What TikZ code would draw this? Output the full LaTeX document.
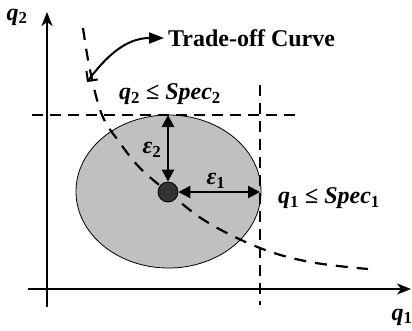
\documentclass[tikz,border=0pt]{standalone}
\usepackage{fontspec}
\setmainfont{Liberation Serif}
\usetikzlibrary{arrows.meta, positioning, shapes.geometric}

\begin{document}
\begin{tikzpicture}[
			x=1pt, y=-1pt,
			axis/.style={
				line width=2.6pt,
				-{Stealth[length=14pt, width=11pt, inset=4pt]}
			},
			specline/.style={
				line width=2.6pt,
				dash pattern=on 11pt off 7pt
			},
			tradeoff/.style={
				line width=2.2pt,
				dash pattern=on 12pt off 9pt
			},
			arrow/.style={
				{Triangle[length=12pt, width=12pt]}-{Triangle[length=12pt, width=12pt]},
				line width=2.6pt
			},
			pointer/.style={
				{Straight Barb[length=7pt, width=14pt]}-{Triangle[length=15pt, width=11pt]},
				line width=2pt,
				shorten >=4pt
			},
			label/.style={
				font=\fontsize{24}{27}\selectfont\bfseries,
				inner sep=0pt
			}
			]
			
			% Fix the page size
			\useasboundingbox (0,0) rectangle (412,330);
			
			% Tolerance region (ellipse) and nominal point
			\node[ellipse, draw, fill={rgb,255:red,192;green,192;blue,192}, line width=0.8pt,
				minimum width=185pt, minimum height=153pt, inner sep=0pt] (region) at (168.5,191.5) {};
			
			% Axes
			\coordinate (origin) at (47,289);
			\draw[axis] (47,307) -- (47,12);
			\draw[axis] (28,289) -- (411,289);
			\node[label] (q2_axis) at (17,17) {\textit{q}\textsubscript{2}};
			\node[label] (q1_axis) at (402,317) {\textit{q}\textsubscript{1}};
			
			% Spec limits
			\coordinate (spec2_a) at (32,115);
			\coordinate (spec2_b) at (296,115);
			\coordinate (spec1_a) at (260,85);
			\coordinate (spec1_b) at (260,305);
			\draw[specline] (spec2_a) -- (spec2_b);
			\draw[specline] (spec1_a) -- (spec1_b);
			\node[label] (spec2_label) at (170,94) {\textit{q}\textsubscript{2} ≤ \textit{Spec}\textsubscript{2}};
			\node[label] (spec1_label) at (329,198) {\textit{q}\textsubscript{1} ≤ \textit{Spec}\textsubscript{1}};
			
			% Trade-off curve
			\draw[tradeoff] plot[smooth, tension=0.6] coordinates {(83,28) (90,70) (102,115) (120,143) (140,168) (168,192) (207,222) (260,248) (310,262) (368,269)};
			\coordinate (curve_pt) at (87,82);
			\node[label, anchor=west] (tradeoff_label) at (168,38) {Trade-off Curve};
			\draw[pointer] (curve_pt) .. controls (105,58) and (125,38) .. (tradeoff_label.west);
			
			% Nominal point
			\node[circle, draw, fill={rgb,255:red,51;green,51;blue,51}, line width=0.8pt,
				minimum size=20pt, inner sep=0pt] (nominal) at (168,192) {};
			
			% Distances to the spec limits
			\coordinate (top_hit) at (nominal.center |- spec2_a);
			\coordinate (right_hit) at (nominal.center -| spec1_a);
			\draw[arrow] (nominal.north) -- (top_hit);
			\draw[arrow] (nominal.east) -- (right_hit);
			\node[label] (eps2) at (152,150) {\textit{ε}\textsubscript{2}};
			\node[label] (eps1) at (216,181) {\textit{ε}\textsubscript{1}};
			
		\end{tikzpicture}
\end{document}
